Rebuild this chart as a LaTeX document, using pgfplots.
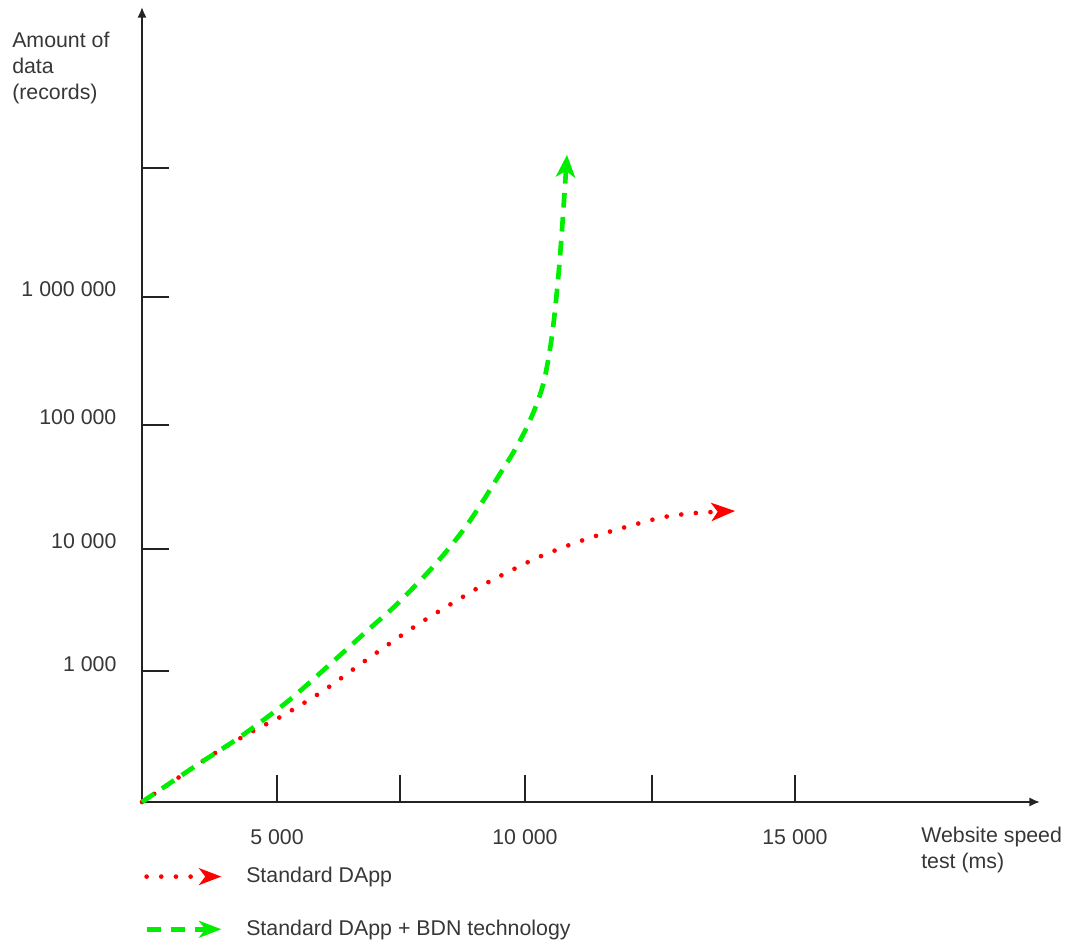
\documentclass[border=0pt]{standalone}
\usepackage{pgfplots}
\pgfplotsset{compat=1.18}
\usepackage{fontspec}
\setmainfont{Liberation Sans}
\usetikzlibrary{arrows.meta}
\definecolor{txt}{RGB}{55,55,55}
\definecolor{axc}{RGB}{35,35,35}
\definecolor{gr}{RGB}{0,238,0}
\definecolor{rd}{RGB}{255,0,0}
\newcommand{\fs}{\fontsize{16pt}{19.5pt}\selectfont}
\begin{document}
\fs
\begin{tikzpicture}
\begin{axis}[
  x=0.75pt, y=0.75pt,
  xmin=0, xmax=898, ymin=0, ymax=795,
  axis lines=left,
  axis line style={axc, line width=1.5pt, -{Latex[length=8pt,width=7pt]}},
  clip=false,
  xtick={135,258,383,510,653},
  xticklabels={5~000,,10~000,,15~000},
  ytick={131,253,377,505,634},
  yticklabels={1~000,10~000,100~000,1~000~000,},
  tick align=inside,
  major tick length=20pt,
  tick style={axc, line width=1.5pt},
  xticklabel style={inner sep=0pt, anchor=base, yshift=-32pt, font=\fs, text=txt},
  yticklabel style={inner sep=0pt, anchor=base east, xshift=-19pt, yshift=0pt, font=\fs, text=txt},
  legend style={draw=none, fill=none, at={(axis cs:2,-65)}, anchor=north west,
    inner sep=0pt, row sep=25.5pt, font=\fs, text=txt,
    nodes={inner sep=0pt},
    /tikz/every odd column/.append style={column sep=17pt}},
  legend cell align=left,
]
\addplot[rd, line width=3.5pt, line cap=round, dash pattern=on 0pt off 11pt, smooth,
  -{Stealth[length=18pt,width=14pt,inset=5pt,line width=0pt]},
  legend image code/.code={\draw[rd, line width=3.5pt, line cap=round, dash pattern=on 0pt off 11pt, -{Stealth[length=17pt,width=13pt,inset=5pt,line width=0pt]}] (0pt,0pt) -- (56pt,0pt);}]
  coordinates {
  (0,0) (30,20) (70,47) (111,71) (140,86) (181,111) (220,139) (260,167)
  (286,184) (314,201) (341,217) (370,232) (397,245) (430,258) (460,268)
  (491,277) (522,285) (554,289) (593,291)
  };
\addlegendentry{Standard DApp}
\addplot[gr, line width=3.5pt, dash pattern=on 11pt off 7pt, smooth,
  -{Stealth[length=17pt,width=15pt,inset=5pt,line width=0pt]},
  legend image code/.code={\draw[gr, line width=3.5pt, dash pattern=on 11pt off 7pt, -{Stealth[length=17pt,width=13pt,inset=5pt,line width=0pt]}] (0pt,0pt) -- (56pt,0pt);}]
  coordinates {
  (0,0) (55,37) (98,65) (145,100) (185,135) (226,172) (251,194) (271,214)
  (290,234) (308,255) (325,277) (341,301) (356,325) (371,349) (384,373)
  (394,396) (401,417) (406,441) (411,474) (416,522) (420,572) (425,647)
  };
\addlegendentry{Standard DApp + BDN technology}
\node[anchor=north west, align=left, text=txt, inner sep=0pt, font=\fs] at (axis cs:-130,770) {Amount of\\data\\(records)};
\node[anchor=north west, align=left, text=txt, inner sep=0pt, font=\fs] at (axis cs:779,-25) {Website speed\\test (ms)};
\path (axis cs:-142,802) rectangle (axis cs:924,-143);
\end{axis}
\end{tikzpicture}
\end{document}
